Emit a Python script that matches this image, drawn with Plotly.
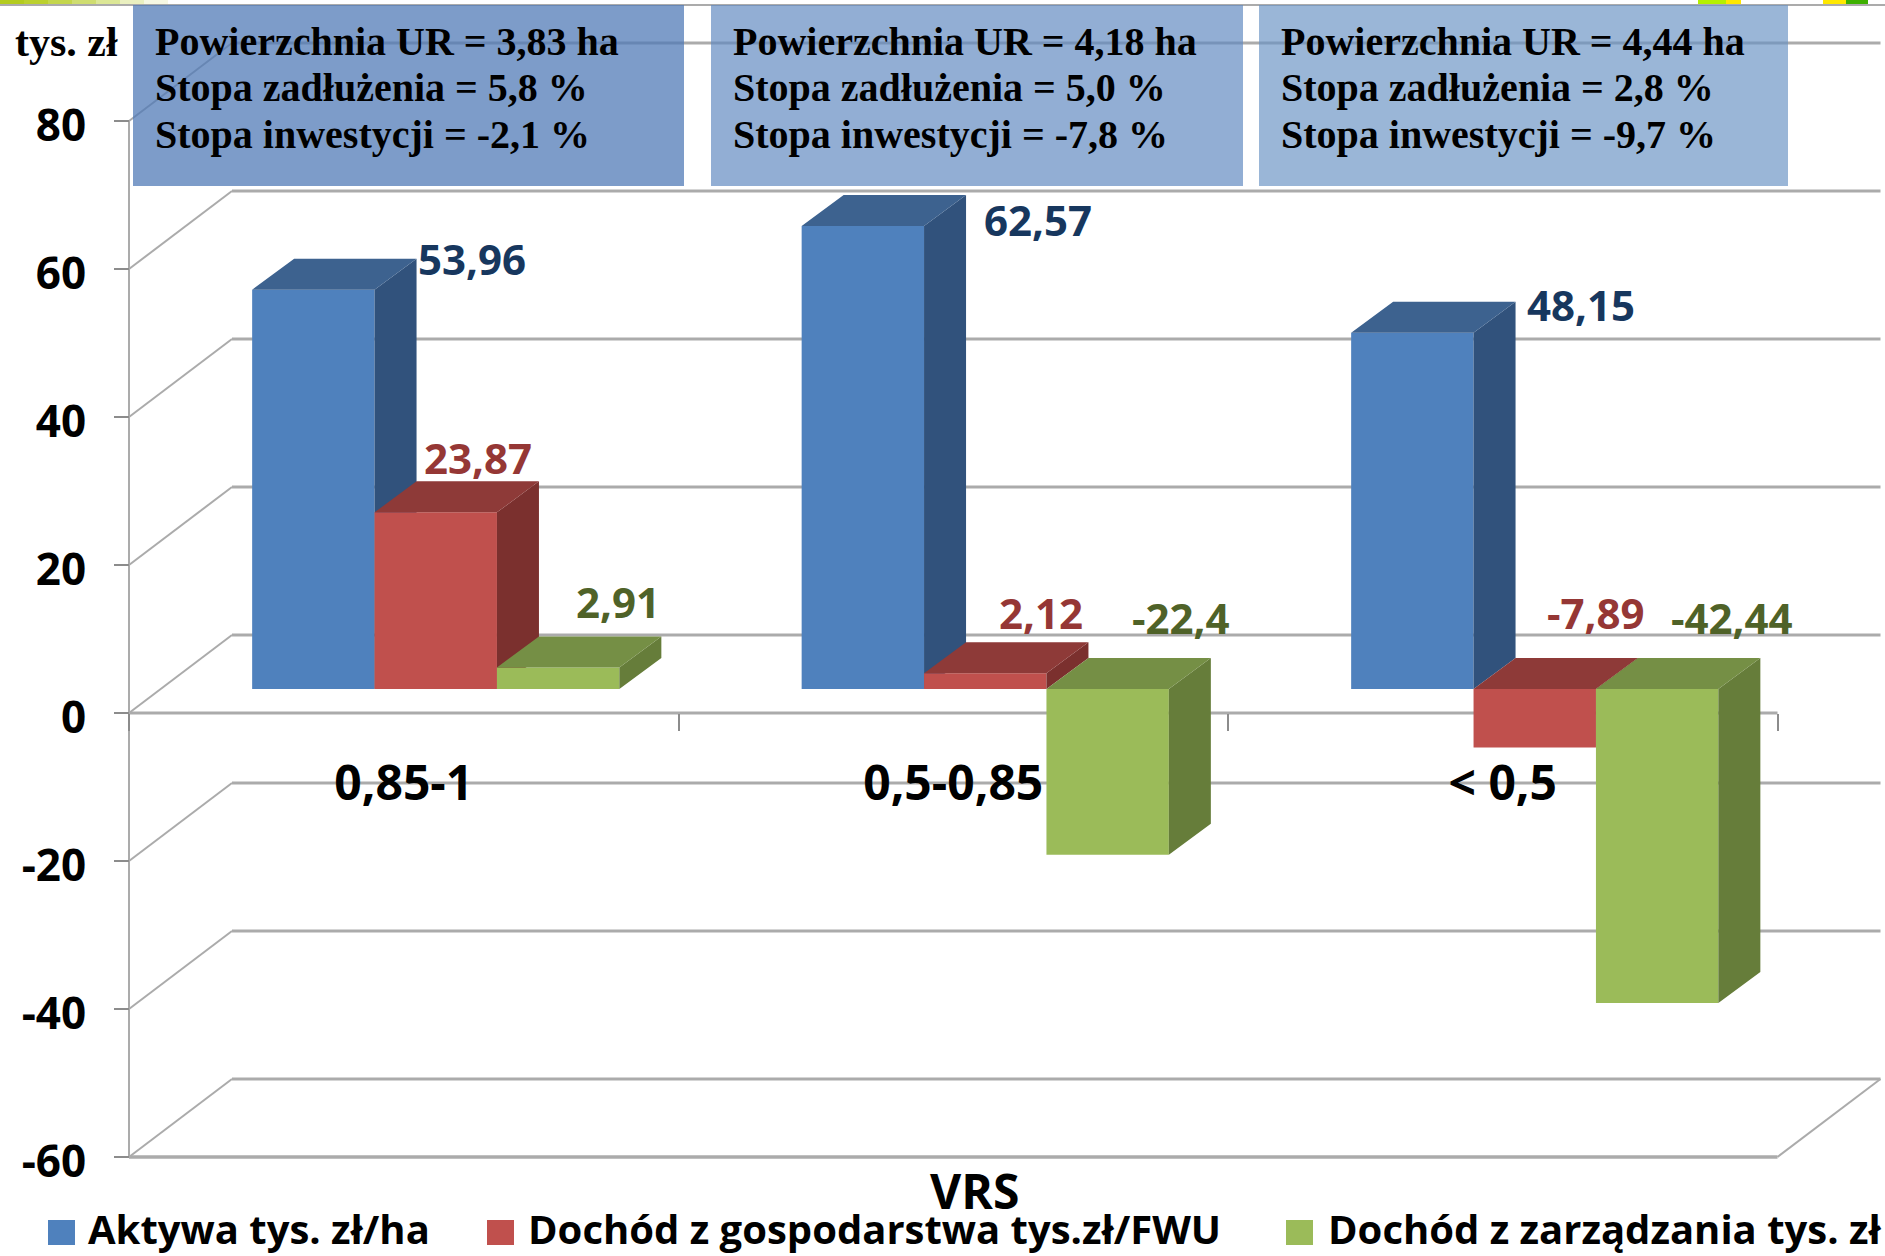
import plotly.graph_objects as go

W, H = 1885, 1256

categories = ["0,85-1", "0,5-0,85", "< 0,5"]
series_names = ["Aktywa tys. zł/ha", "Dochód z gospodarstwa tys.zł/FWU", "Dochód z zarządzania tys. zł"]
aktywa = [53.96, 62.57, 48.15]
dochod_gosp = [23.87, 2.12, -7.89]
dochod_zarz = [2.91, -22.4, -42.44]
y_ticks = [-60, -40, -20, 0, 20, 40, 60, 80]
powierzchnia = ["3,83", "4,18", "4,44"]
zadluzenie = ["5,8", "5,0", "2,8"]
inwestycje = ["-2,1", "-7,8", "-9,7"]

# ---- styling / layout constants ----
X0, UX = 129.0, 549.5      # pixel of category edge 0, pixels per category
Y0, UY = 713.0, 7.4        # pixel of value 0, pixels per value unit
BACK_DX, BACK_DY = 103 / UX, 78 / UY      # depth of the chart box
BAR_DX, BAR_DY = 42 / UX, 31 / UY         # depth of a bar
BAR_W = 122.4 / UX
BAR_SHIFT = 32 / UX
BAR_BASE = 24 / UY
FRONT = ["#4F81BD", "#C0504D", "#9BBB59"]
SIDE = ["#31527C", "#7B302E", "#667D3A"]
TOP = ["#3D628F", "#8E3A38", "#758F45"]
LABEL = ["#17375E", "#953735", "#4F6228"]
GRID = "#ABABAB"
SANS = "Open Sans"
SERIF = "Liberation Serif"

fig = go.Figure()
all_series = [aktywa, dochod_gosp, dochod_zarz]

for s, vals in enumerate(all_series):
    suffix = "" if s == 0 else str(s + 1)
    xa, ya = "x" + suffix, "y" + suffix
    centers = [i + 0.5 + BAR_SHIFT + (s - 1) * BAR_W for i in range(3)]
    fig.add_trace(go.Bar(x=centers, y=vals, base=[BAR_BASE] * 3, width=BAR_W, name=series_names[s],
                         marker=dict(color=FRONT[s], line=dict(width=0)), xaxis=xa, yaxis=ya,
                         showlegend=False, cliponaxis=False))
    tx, ty, sx, sy = [], [], [], []
    for c, v in zip(centers, vals):
        xl, xr = c - BAR_W / 2, c + BAR_W / 2
        t, b = BAR_BASE + max(v, 0), BAR_BASE + min(v, 0)
        tx += [xl, xr, xr + BAR_DX, xl + BAR_DX, xl, None]
        ty += [t, t, t + BAR_DY, t + BAR_DY, t, None]
        sx += [xr, xr, xr + BAR_DX, xr + BAR_DX, xr, None]
        sy += [t, b, b + BAR_DY, t + BAR_DY, t, None]
    for px_, py_, col in ((sx, sy, SIDE[s]), (tx, ty, TOP[s])):
        fig.add_trace(go.Scatter(x=px_, y=py_, mode="lines", fill="toself", fillcolor=col,
                                 line=dict(width=0, color=col), xaxis=xa, yaxis=ya,
                                 showlegend=False, hoverinfo="skip"))

shapes = []


def line(x0, y0, x1, y1, width=2.5, color=GRID, layer="below"):
    shapes.append(dict(type="line", xref="x", yref="y", x0=x0, y0=y0, x1=x1, y1=y1,
                       line=dict(color=color, width=width), layer=layer))


def px_rect(x0, y0, x1, y1, color, layer="below"):
    shapes.append(dict(type="rect", xref="paper", yref="paper", x0=x0 / W, x1=x1 / W,
                       y0=1 - y0 / H, y1=1 - y1 / H, fillcolor=color, line=dict(width=0), layer=layer))


# walls: diagonal + back line for every tick level
for v in y_ticks:
    line(0, v, BACK_DX, v + BACK_DY, width=2)
    line(BACK_DX, v + BACK_DY, 3 + BACK_DX, v + BACK_DY, width=3)
# front floor, right floor edge, zero line and value axis
line(0, -60, 3, -60, width=3.5)
line(3, -60, 3 + BACK_DX, -60 + BACK_DY, width=2)
line(0, 0, 3, 0, width=3)
line(0, -60, 0, 80, width=2)

# header strip
strip = ["#B3CB1F", "#BBD02E", "#C4D64C", "#CFDD70", "#DCE796", "#EAF0C0", "#F6F8E3"]
for i, col in enumerate(strip):
    px_rect(i * 24, 0, (i + 1) * 24, 4, col)
shapes.append(dict(type="line", xref="paper", yref="paper", x0=0, x1=1, y0=1 - 5 / H, y1=1 - 5 / H,
                   line=dict(color="#ABABAB", width=2), layer="below"))
px_rect(1698, 0, 1726, 4, "#B5F000")
px_rect(1726, 0, 1741, 4, "#FFE800")
px_rect(1823, 0, 1846, 4, "#FFE800")
px_rect(1846, 0, 1868, 4, "#3DB000")

# information boxes
boxes = [(133, 684, "rgba(79,122,182,0.74)"), (711, 1243, "rgba(95,136,192,0.68)"), (1259, 1788, "rgba(105,146,196,0.67)")]
for x0, x1, col in boxes:
    px_rect(x0, 5, x1, 186, col, layer="above")

ann = []


def text(px, py, s, size, color="#000000", family=SANS, anchor="center", weight="bold"):
    ann.append(dict(xref="paper", yref="paper", x=px / W, y=1 - py / H, text=s, showarrow=False,
                    xanchor=anchor, yanchor="middle", font=dict(family=family, size=size, color=color, weight=weight)))


for i, tx0 in enumerate([153, 731, 1279]):
    text(tx0, 41, f"Powierzchnia\u00a0UR = {powierzchnia[i]} ha", 40, family=SERIF, anchor="left")
    text(tx0, 88, f"Stopa zadłużenia = {zadluzenie[i]} %", 40, family=SERIF, anchor="left")
    text(tx0, 134, f"Stopa inwestycji = {inwestycje[i]} %", 40, family=SERIF, anchor="left")
text(66, 42, "tys. zł", 42, family=SERIF)

# data labels, centred where the reference places them
label_pos = [
    [(472, 258), (1038, 220), (1581, 305)],
    [(478, 458), (1041, 613), (1596, 613)],
    [(618, 601), (1181, 618), (1732, 617)],
]
for s, vals in enumerate(all_series):
    for (lx, ly), v in zip(label_pos[s], vals):
        text(lx, ly, str(v).replace(".", ","), 42, color=LABEL[s])

text(974, 1190, "VRS", 48)

# legend
legend_pos = [(48, 86), (487, 526), (1286, 1326)]
for s, (sw, tx0) in enumerate(legend_pos):
    px_rect(sw, 1220, sw + 27, 1245, FRONT[s])
    text(tx0, 1228, series_names[s], 40, anchor="left")

rx = [-X0 / UX, (W - X0) / UX]
ry = [(Y0 - H) / UY, Y0 / UY]
layout_axes = dict(
    xaxis=dict(range=rx, anchor="free", position=1 - Y0 / H, showgrid=False, zeroline=False, showline=False,
               tickmode="array", tickvals=[0.5, 1.5, 2.5], ticktext=categories, ticks="",
               tickfont=dict(family=SANS, size=48, color="#000000", weight="bold"),
               ticklabelstandoff=38, fixedrange=True,
               minor=dict(tickmode="array", tickvals=[0, 1, 2, 3], ticks="outside", ticklen=17, tickwidth=2,
                          tickcolor="#8C8C8C", showgrid=False)),
    yaxis=dict(range=ry, anchor="free", position=X0 / W, showgrid=False, zeroline=False, showline=False,
               tickmode="array", tickvals=y_ticks, ticktext=[str(v) for v in y_ticks], ticks="outside",
               ticklen=15, tickwidth=2, tickcolor="#8C8C8C",
               tickfont=dict(family=SANS, size=44, color="#000000", weight="bold"),
               ticklabelstandoff=19, ticklabelshift=5, fixedrange=True),
)
for n in (2, 3):
    layout_axes[f"xaxis{n}"] = dict(range=rx, overlaying="x", anchor=f"y{n}", visible=False, fixedrange=True)
    layout_axes[f"yaxis{n}"] = dict(range=ry, overlaying="y", anchor=f"x{n}", visible=False, fixedrange=True)

fig.update_layout(width=W, height=H, margin=dict(l=0, r=0, t=0, b=0, pad=0), autosize=False,
                  paper_bgcolor="#FFFFFF", plot_bgcolor="rgba(0,0,0,0)", barmode="overlay",
                  showlegend=False, shapes=shapes, annotations=ann, **layout_axes)

fig.write_html("out.html", config=dict(displayModeBar=False),
               post_script="document.body.style.margin='0';document.documentElement.style.overflow='hidden';")
